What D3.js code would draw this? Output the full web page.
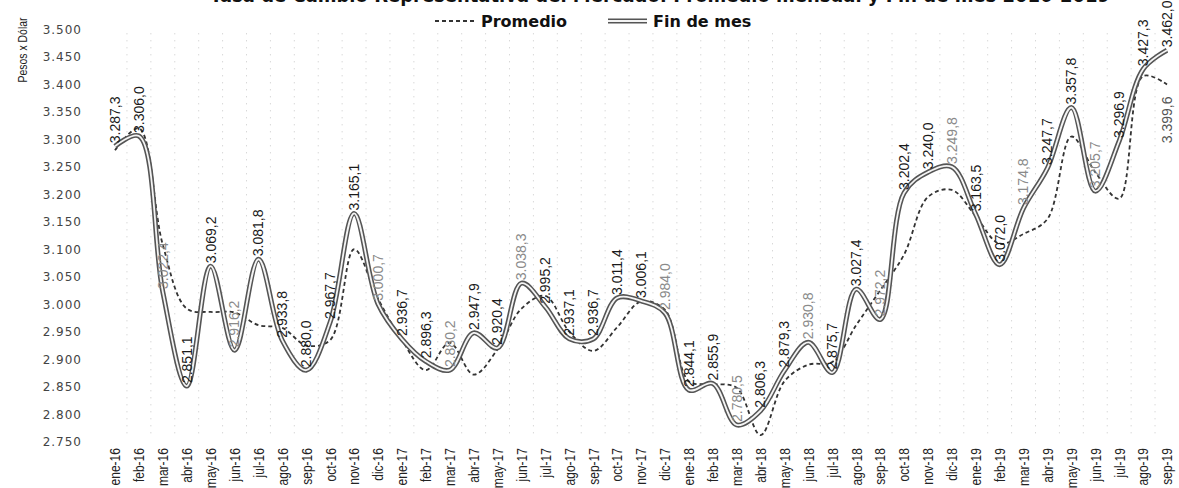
<!DOCTYPE html>
<html>
<head>
<meta charset="utf-8">
<script src="https://cdn.jsdelivr.net/npm/d3@7"></script>
<style>
  body { margin: 0; background: #fff; }
  svg { display: block; }
</style>
</head>
<body>
<svg width="1179" height="488"></svg>
<script>
// meses ene-16 .. sep-19
var months = ["ene-16","feb-16","mar-16","abr-16","may-16","jun-16","jul-16","ago-16","sep-16","oct-16","nov-16","dic-16",
              "ene-17","feb-17","mar-17","abr-17","may-17","jun-17","jul-17","ago-17","sep-17","oct-17","nov-17","dic-17",
              "ene-18","feb-18","mar-18","abr-18","may-18","jun-18","jul-18","ago-18","sep-18","oct-18","nov-18","dic-18",
              "ene-19","feb-19","mar-19","abr-19","may-19","jun-19","jul-19","ago-19","sep-19"];

var finDeMes = [3287.3, 3306.0, 3022.4, 2851.1, 3069.2, 2916.2, 3081.8, 2933.8, 2880.0, 2967.7, 3165.1, 3000.7,
                2936.7, 2896.3, 2880.2, 2947.9, 2920.4, 3038.3, 2995.2, 2937.1, 2936.7, 3011.4, 3006.1, 2984.0,
                2844.1, 2855.9, 2780.5, 2806.3, 2879.3, 2930.8, 2875.7, 3027.4, 2972.2, 3202.4, 3240.0, 3249.8,
                3163.5, 3072.0, 3174.8, 3247.7, 3357.8, 3205.7, 3296.9, 3427.3, 3462.0];

var promedio = [3280, 3320, 3108, 2992, 2986, 2985, 2962, 2957, 2925, 2935, 3100, 3010,
                2935, 2880, 2930, 2872, 2918, 2992, 3015, 2950, 2915, 2958, 3005, 2990,
                2860, 2855, 2848, 2762, 2860, 2890, 2895, 2962, 3025, 3090, 3195, 3208,
                3160, 3110, 3128, 3155, 3305, 3240, 3192, 3415, 3399.6];

var yTicks = [2750, 2800, 2850, 2900, 2950, 3000, 3050, 3100, 3150, 3200, 3250, 3300, 3350, 3400, 3450, 3500];

// etiquetas impresas en gris claro en el original
var fadedLabels = ["mar-16","jun-16","dic-16","mar-17","jun-17","dic-17","mar-18","jun-18","sep-18","dic-18","mar-19","jun-19"];
// solo el ultimo promedio lleva etiqueta
var promedioLabels = ["sep-19"];

var title = "Tasa de Cambio Representativa del Mercado: Promedio mensual y Fin de mes 2016-2019";

var svg = d3.select("svg"),
    width = +svg.attr("width"),
    height = +svg.attr("height");

var es = d3.formatLocale({decimal: ",", thousands: ".", grouping: [3], currency: ["$", ""]});
var fmtTick = es.format(","),
    fmtVal = es.format(",.1f");

var x = d3.scalePoint()
    .domain(months)
    .range([115, 1167]);

var y = d3.scaleLinear()
    .domain([2750, 3500])
    .range([441.7, 29.3]);

var step = x.step();

// titulo (recortado por el borde superior, como en el original)
svg.append("text")
    .attr("x", 210)
    .attr("y", 2)
    .attr("textLength", 900)
    .attr("lengthAdjust", "spacingAndGlyphs")
    .style("font-family", "DejaVu Sans, Verdana, sans-serif")
    .style("font-size", "20px")
    .style("font-weight", "bold")
    .style("fill", "#111")
    .text(title);

// lineas de division verticales (punteadas, muy tenues)
svg.append("g")
    .selectAll("line")
    .data(months.slice(0, -1))
    .join("line")
    .attr("x1", function(d) { return x(d) + step / 2; })
    .attr("x2", function(d) { return x(d) + step / 2; })
    .attr("y1", y(3500) + 4)
    .attr("y2", y(2750) - 6)
    .style("stroke", "#c8c8c8")
    .style("stroke-width", 1)
    .style("stroke-dasharray", "1,6");

// eje Y
var yAxis = svg.append("g")
    .attr("transform", "translate(82,0)")
    .call(d3.axisLeft(y).tickValues(yTicks).tickFormat(fmtTick).tickSize(0).tickPadding(0));
yAxis.select(".domain").remove();
yAxis.selectAll("text")
    .style("font-family", "DejaVu Sans, Verdana, sans-serif")
    .style("font-size", "12px")
    .style("letter-spacing", "1px")
    .style("fill", "#444");

svg.append("text")
    .attr("transform", "translate(22,50) rotate(-90)")
    .attr("text-anchor", "middle")
    .attr("dy", "0.35em")
    .attr("textLength", 65)
    .attr("lengthAdjust", "spacingAndGlyphs")
    .style("font-family", "Liberation Sans Narrow, Arial Narrow, Liberation Sans, sans-serif")
    .style("font-size", "13px")
    .style("fill", "#222")
    .text("Pesos x Dólar");

// eje X
var xAxis = svg.append("g")
    .attr("transform", "translate(0,448)")
    .call(d3.axisBottom(x).tickSize(0).tickPadding(0));
xAxis.select(".domain").remove();
xAxis.selectAll("text")
    .attr("transform", "rotate(-90) scale(0.86,1)")
    .attr("x", 0)
    .attr("y", 0)
    .attr("dy", "0.35em")
    .style("text-anchor", "end")
    .style("font-family", "Liberation Sans, Arial, sans-serif")
    .style("font-size", "14px")
    .style("fill", "#222");

var line = d3.line()
    .x(function(d, i) { return x(months[i]); })
    .y(function(d) { return y(d); })
    .curve(d3.curveCatmullRom.alpha(0.5));

// Promedio (discontinua)
svg.append("path")
    .datum(promedio)
    .attr("d", line)
    .style("fill", "none")
    .style("stroke", "#333")
    .style("stroke-width", 1.8)
    .style("stroke-dasharray", "4,3");

// Fin de mes (doble linea)
svg.append("path")
    .datum(finDeMes)
    .attr("d", line)
    .style("fill", "none")
    .style("stroke", "#555")
    .style("stroke-width", 5);
svg.append("path")
    .datum(finDeMes)
    .attr("d", line)
    .style("fill", "none")
    .style("stroke", "#f4f4f4")
    .style("stroke-width", 1.8);

// etiquetas fin de mes
svg.append("g")
    .selectAll("text")
    .data(finDeMes)
    .join("text")
    .attr("transform", function(d, i) { return "translate(" + x(months[i]) + "," + (y(d) - 3) + ") rotate(-90)"; })
    .attr("dy", "0.35em")
    .style("text-anchor", "start")
    .style("font-family", "Liberation Sans, Arial, sans-serif")
    .style("font-size", "14px")
    .style("fill", function(d, i) { return fadedLabels.indexOf(months[i]) >= 0 ? "#8a8a8a" : "#1a1a1a"; })
    .text(function(d) { return fmtVal(d); });

// etiqueta promedio
svg.append("g")
    .selectAll("text")
    .data(promedio.map(function(v, i) { return {m: months[i], v: v}; })
        .filter(function(d) { return promedioLabels.indexOf(d.m) >= 0; }))
    .join("text")
    .attr("transform", function(d) { return "translate(" + x(d.m) + "," + (y(d.v) + 12) + ") rotate(-90)"; })
    .attr("dy", "0.35em")
    .style("text-anchor", "end")
    .style("font-family", "Liberation Sans, Arial, sans-serif")
    .style("font-size", "14px")
    .style("fill", "#555")
    .text(function(d) { return fmtVal(d.v); });

// leyenda
var legend = svg.append("g")
    .style("font-family", "DejaVu Sans, Verdana, sans-serif")
    .style("font-size", "16px")
    .style("font-weight", "bold")
    .style("fill", "#111");

legend.append("line")
    .attr("x1", 435).attr("x2", 477).attr("y1", 21).attr("y2", 21)
    .style("stroke", "#333")
    .style("stroke-width", 1.8)
    .style("stroke-dasharray", "4,3");
legend.append("text")
    .attr("x", 481).attr("y", 26.5)
    .text("Promedio");

legend.append("line")
    .attr("x1", 608).attr("x2", 647).attr("y1", 21).attr("y2", 21)
    .style("stroke", "#555")
    .style("stroke-width", 5);
legend.append("line")
    .attr("x1", 608).attr("x2", 647).attr("y1", 21).attr("y2", 21)
    .style("stroke", "#f4f4f4")
    .style("stroke-width", 1.8);
legend.append("text")
    .attr("x", 653).attr("y", 26.5)
    .text("Fin de mes");
</script>
</body>
</html>
